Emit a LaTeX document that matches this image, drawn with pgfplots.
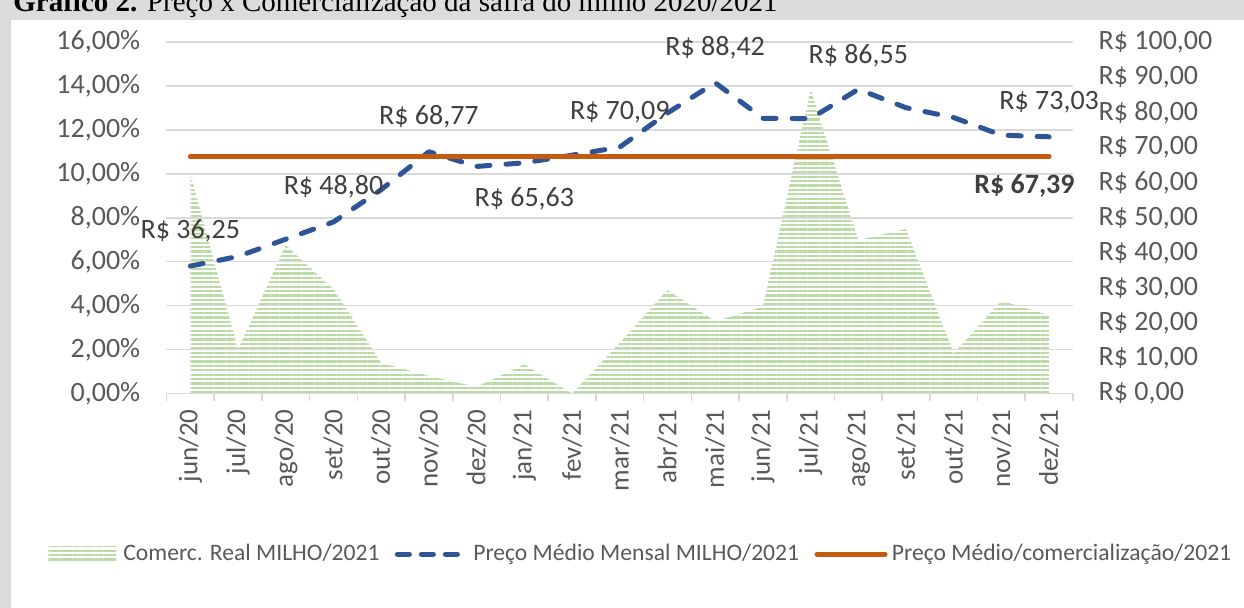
\documentclass[border=0pt]{standalone}
\usepackage{fontspec}
\setmainfont{Carlito}
\newfontfamily\timesfont{Liberation Serif}
\usepackage{pgfplots}
\pgfplotsset{compat=1.18}
\usetikzlibrary{patterns.meta}
\definecolor{areagreen}{HTML}{BBDBA5}
\definecolor{pblue}{HTML}{2F5597}
\definecolor{porange}{HTML}{C55A11}
\definecolor{gridgray}{HTML}{D9D9D9}
\definecolor{labgray}{HTML}{595959}
\definecolor{datgray}{HTML}{404040}
\definecolor{bggray}{RGB}{222,220,218}
\tikzset{datalabel/.style={inner sep=0pt, text=datgray, font=\fontsize{14}{16}\selectfont}}
\begin{document}
\begin{tikzpicture}
\useasboundingbox (0,0) rectangle (622pt,-304pt);
\clip (0,0) rectangle (622pt,-304pt);
\fill[bggray] (0,0) rectangle (622pt,-304pt);
\filldraw[fill=white, draw=gridgray, line width=0.5pt] (5pt,-10pt) rectangle (630pt,-310pt);
\node[anchor=base west, inner sep=0pt, font=\timesfont\fontsize{14.5}{16}\selectfont, text=black] at (6.5pt,-6pt) {\textbf{Gráfico 2.} Preço x Comercialização da safra do milho 2020/2021};

\begin{axis}[
  at={(83.25pt,-196.75pt)}, anchor=south west,
  scale only axis, width=453.25pt, height=175.75pt,
  xmin=-0.5, xmax=18.5, ymin=0, ymax=16,
  axis x line*=bottom, axis y line*=left,
  x axis line style={draw=gridgray, line width=0.8pt},
  y axis line style={draw=none},
  tick align=outside,
  xtick={0,...,18},
  xticklabels={jun/20,jul/20,ago/20,set/20,out/20,nov/20,dez/20,jan/21,fev/21,mar/21,abr/21,mai/21,jun/21,jul/21,ago/21,set/21,out/21,nov/21,dez/21},
  minor xtick={-0.5,0.5,...,18.5},
  major tick length=0pt,
  minor tick length=4pt,
  every major x tick/.append style={draw=none},
  every major y tick/.append style={draw=none},
  every minor x tick/.append style={draw=gridgray, line width=0.8pt},
  ytick={0,2,...,16},
  yticklabels={{0,00\%},{2,00\%},{4,00\%},{6,00\%},{8,00\%},{10,00\%},{12,00\%},{14,00\%},{16,00\%}},
  ymajorgrids,
  major grid style={draw=gridgray, line width=0.8pt},
  xticklabel shift=4.5pt,
  yticklabel shift=9.6pt,
  x tick label style={rotate=90, anchor=east, font=\fontsize{13.5}{15}\selectfont, text=labgray},
  y tick label style={anchor=east, font=\fontsize{14}{16}\selectfont, text=labgray},
  legend style={at={(rel axis cs:-0.1307,-0.457)}, anchor=west, draw=none, fill=none,
    inner sep=0pt, column sep=0pt, font=\fontsize{11.8}{14}\selectfont, text=labgray,
    nodes={inner sep=0pt}},
  legend columns=-1,
  legend cell align=left,
]
\addplot[draw=none, pattern={Lines[angle=0,distance=2.2pt,line width=1.1pt]}, pattern color=areagreen,
  legend image code/.code={\fill[pattern={Lines[angle=0,distance=2.2pt,line width=1.1pt]},pattern color=areagreen] (0pt,-3.75pt) rectangle (34pt,3.75pt); \path (0pt,0pt) (37.5pt,0pt);}]
  coordinates {(0,10.0) (1,2.0) (2,6.75) (3,4.75) (4,1.4) (5,0.8) (6,0.3) (7,1.33) (8,0.0) (9,2.3) (10,4.71) (11,3.29) (12,3.95) (13,13.85) (14,6.98) (15,7.49) (16,1.82) (17,4.22) (18,3.57)} \closedcycle;
\addlegendentry{Comerc. Real MILHO/2021}
\addlegendimage{legend image code/.code={\path (0pt,0pt) (46.5pt,0pt); \draw[pblue, line width=2.5pt, dash pattern=on 6pt off 6pt, line cap=round] (8.75pt,0pt) -- (38.75pt,0pt);}}
\addlegendentry{Preço Médio Mensal MILHO/2021}
\addlegendimage{legend image code/.code={\path (0pt,0pt) (46pt,0pt); \draw[porange, line width=2.5pt, line cap=round] (8.75pt,0pt) -- (42.75pt,0pt);}}
\addlegendentry{Preço Médio/comercialização/2021}
\end{axis}

\begin{axis}[
  at={(83.25pt,-196.75pt)}, anchor=south west,
  scale only axis, width=453.25pt, height=175.75pt,
  xmin=-0.5, xmax=18.5, ymin=0, ymax=100,
  axis y line*=right, axis x line=none,
  y axis line style={draw=none},
  ytick={0,10,...,100},
  yticklabels={{R\$ 0,00},{R\$ 10,00},{R\$ 20,00},{R\$ 30,00},{R\$ 40,00},{R\$ 50,00},{R\$ 60,00},{R\$ 70,00},{R\$ 80,00},{R\$ 90,00},{R\$ 100,00}},
  major tick length=0pt,
  every major y tick/.append style={draw=none},
  yticklabel shift=9.3pt,
  y tick label style={anchor=west, font=\fontsize{14}{16}\selectfont, text=labgray},
  clip=false,
]
\addplot[pblue, line width=2.5pt, dash pattern=on 6.5pt off 8pt, line cap=round, line join=round]
  coordinates {(0,36.25) (1,39.0) (2,43.9) (3,48.80) (4,58.0) (5,68.77) (6,64.6) (7,65.63) (8,67.8) (9,70.09) (10,79.8) (11,88.42) (12,78.3) (13,78.2) (14,86.55) (15,81.3) (16,78.5) (17,73.5) (18,73.03)};
\addplot[porange, line width=2.5pt, line cap=round]
  coordinates {(0,67.39) (1,67.39) (2,67.39) (3,67.39) (4,67.39) (5,67.39) (6,67.39) (7,67.39) (8,67.39) (9,67.39) (10,67.39) (11,67.39) (12,67.39) (13,67.39) (14,67.39) (15,67.39) (16,67.39) (17,67.39) (18,67.39)};
\node[datalabel, yshift=17.5pt] at (axis cs:0,36.25) {R\$ 36,25};
\node[datalabel, yshift=17.5pt] at (axis cs:3,48.80) {R\$ 48,80};
\node[datalabel, yshift=17.5pt] at (axis cs:5,68.77) {R\$ 68,77};
\node[datalabel, yshift=-18pt] at (axis cs:7,65.63) {R\$ 65,63};
\node[datalabel, yshift=17.5pt] at (axis cs:9,70.09) {R\$ 70,09};
\node[datalabel, yshift=17.5pt] at (axis cs:11,88.42) {R\$ 88,42};
\node[datalabel, yshift=17pt] at (axis cs:14,86.55) {R\$ 86,55};
\node[datalabel, yshift=17.5pt] at (axis cs:18,73.03) {R\$ 73,03};
\node[datalabel, anchor=east, font=\bfseries\fontsize{14}{16}\selectfont, yshift=-14.5pt, xshift=1pt] at (axis cs:18.5,67.39) {R\$ 67,39};
\end{axis}
\end{tikzpicture}
\end{document}
